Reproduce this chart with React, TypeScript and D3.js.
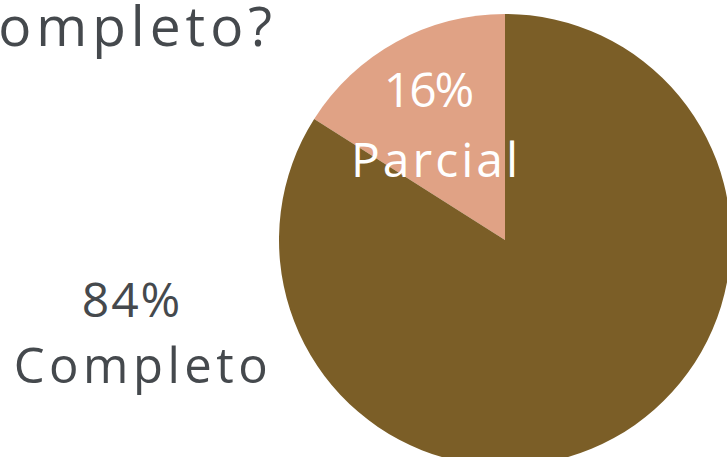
import React from "react";
import * as d3 from "d3";

const categories = ["Completo", "Parcial"];
const values = [84, 16];
const percentLabels = ["84%", "16%"];
const colors = ["#7B5E27", "#E0A285"];
const title = "¿Completo?";

const W = 727;
const H = 457;

export default function App() {
  const cx = 505;
  const cy = 240;
  const r = 226;
  const pie = d3
    .pie<number>()
    .sort(null)
    .startAngle(-2 * Math.PI * (values[1] / 100))
    .endAngle(2 * Math.PI - 2 * Math.PI * (values[1] / 100));
  const data = [values[1], values[0]];
  const cols = [colors[1], colors[0]];
  const arcs = pie(data);
  const arc = d3.arc<d3.PieArcDatum<number>>().innerRadius(0).outerRadius(r);
  const font = "'Open Sans', sans-serif";
  return (
    <svg
      width={W}
      height={H}
      style={{ position: "absolute", left: 0, top: 0, background: "#fff" }}
    >
      <g transform={`translate(${cx},${cy})`}>
        {arcs.map((a, i) => (
          <path key={i} d={arc(a) || ""} fill={cols[i]} />
        ))}
      </g>
      <text
        x={277}
        y={46}
        textAnchor="end"
        fontFamily={font}
        fontSize={55}
        fill="#45494D"
        letterSpacing={5}
      >
        {title}
      </text>
      <text x={132} y={317} textAnchor="middle" fontFamily={font} fontSize={48} fill="#45494D" letterSpacing={2}>
        {percentLabels[0]}
      </text>
      <text x={143} y={383} textAnchor="middle" fontFamily={font} fontSize={49} fill="#45494D" letterSpacing={4.5}>
        {categories[0]}
      </text>
      <text x={428} y={107} textAnchor="middle" fontFamily={font} fontSize={48} fill="#FFFFFF" letterSpacing={-2}>
        {percentLabels[1]}
      </text>
      <text x={436} y={177} textAnchor="middle" fontFamily={font} fontSize={48} fill="#FFFFFF" letterSpacing={3}>
        {categories[1]}
      </text>
    </svg>
  );
}
